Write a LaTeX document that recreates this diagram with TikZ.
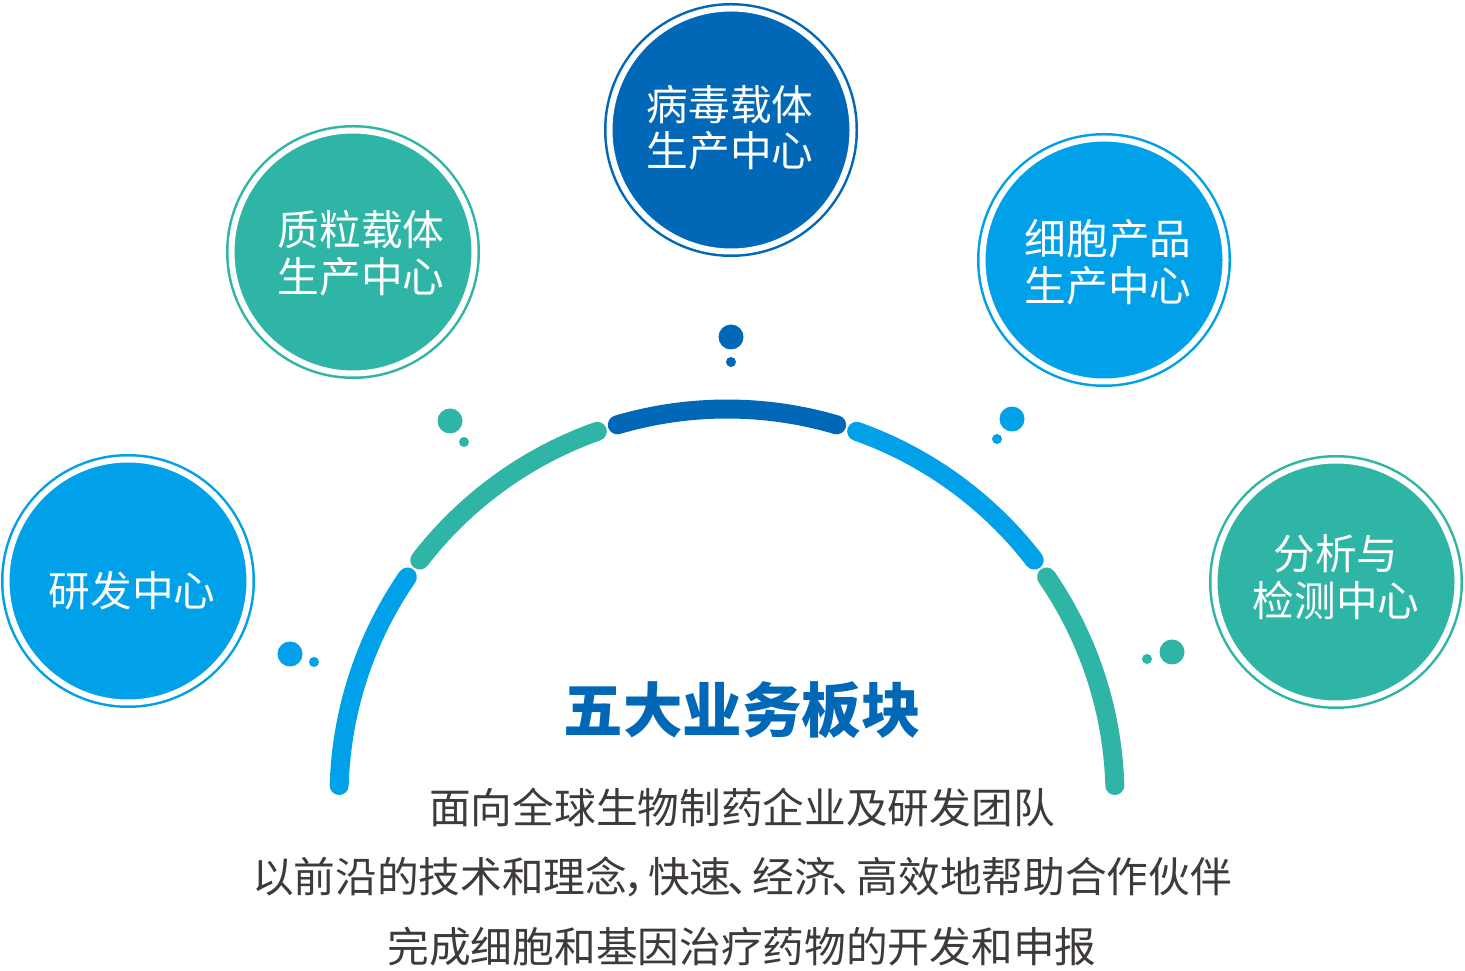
\documentclass[tikz,border=0pt]{standalone}
\usepackage{fontspec}
\newfontfamily\cjk{Noto Sans CJK SC}
\usetikzlibrary{calc,positioning}
\definecolor{blueL}{RGB}{0,161,233}
\definecolor{tealC}{RGB}{47,181,166}
\definecolor{blueD}{RGB}{0,104,183}
\definecolor{textgray}{RGB}{62,58,57}
\newcommand{\halfpunct}[1]{\kern-.1em#1\kern-.4em}
\tikzstyle{hub} = [circle,fill=#1,draw=#1,line width=2.5pt,double=white,double distance=6pt,minimum size=243pt,inner sep=0pt]
\tikzstyle{hubtext} = [text=white,align=center,inner sep=0pt,font=\cjk\fontsize{41.7}{46.5}\selectfont]
\tikzstyle{bigdot} = [circle,fill=#1,inner sep=0pt,minimum size=25pt]
\tikzstyle{smalldot} = [circle,fill=#1,inner sep=0pt,minimum size=10pt]
\tikzset{seg/.style={line width=19pt,line cap=round}}

\begin{document}
\begin{tikzpicture}[x=1pt,y=1pt]
    \useasboundingbox[fill=white] (0,0) rectangle (1465,970);

    % the broken arc
    \coordinate (ctr) at (727,173);
    \foreach \a/\b/\c in {178.3/145.46/blueL,142.36/109.52/tealC,106.42/73.58/blueD,70.48/37.64/blueL,34.54/1.7/tealC}
      \draw [seg,\c] ($(ctr)+(\a:388)$) arc (\a:\b:388);

    % five centres
    \node [hub=blueL] (rd) at (128,389) {};
    \node [hub=tealC] (plasmid) at (353,718) {};
    \node [hub=blueD] (virus) at (731,840) {};
    \node [hub=blueL] (cell) at (1104,710) {};
    \node [hub=tealC] (analysis) at (1336,388) {};

    \node [hubtext] (rdt) at ([shift={(4,-10)}]rd.center) {研发中心};
    \node [hubtext] (plasmidt) at ([shift={(8,-1)}]plasmid.center) {质粒载体\\生产中心};
    \node [hubtext] (virust) at ([shift={(-1,2)}]virus.center) {病毒载体\\生产中心};
    \node [hubtext] (cellt) at ([shift={(4,-2)}]cell.center) {细胞产品\\生产中心};
    \node [hubtext] (analysist) at ([shift={(0,5)}]analysis.center) {分析与\\检测中心};

    % bubbles
    \node [bigdot=blueL] (b1) at (290,316) {};
    \node [smalldot=blueL] (s1) at (314,308) {};
    \node [bigdot=tealC] (b2) at (450,549) {};
    \node [smalldot=tealC] (s2) at (464,528) {};
    \node [bigdot=blueD] (b3) at (731,633) {};
    \node [smalldot=blueD] (s3) at (731,608) {};
    \node [bigdot=blueL] (b4) at (1012,551) {};
    \node [smalldot=blueL] (s4) at (997,531) {};
    \node [bigdot=tealC] (b5) at (1172,318) {};
    \node [smalldot=tealC] (s5) at (1147,311) {};

    \node [text=blueD,font=\cjk\bfseries\fontsize{59.5}{62}\selectfont] (title) at (742,260) {五大业务板块};
    \node [text=textgray,align=center,font=\cjk\fontsize{41.7}{69.5}\selectfont] (desc) at (742,93) {面向全球生物制药企业及研发团队\\以前沿的技术和理念\halfpunct{，}快速\halfpunct{、}经济\halfpunct{、}高效地帮助合作伙伴\\完成细胞和基因治疗药物的开发和申报};
\end{tikzpicture}
\end{document}
